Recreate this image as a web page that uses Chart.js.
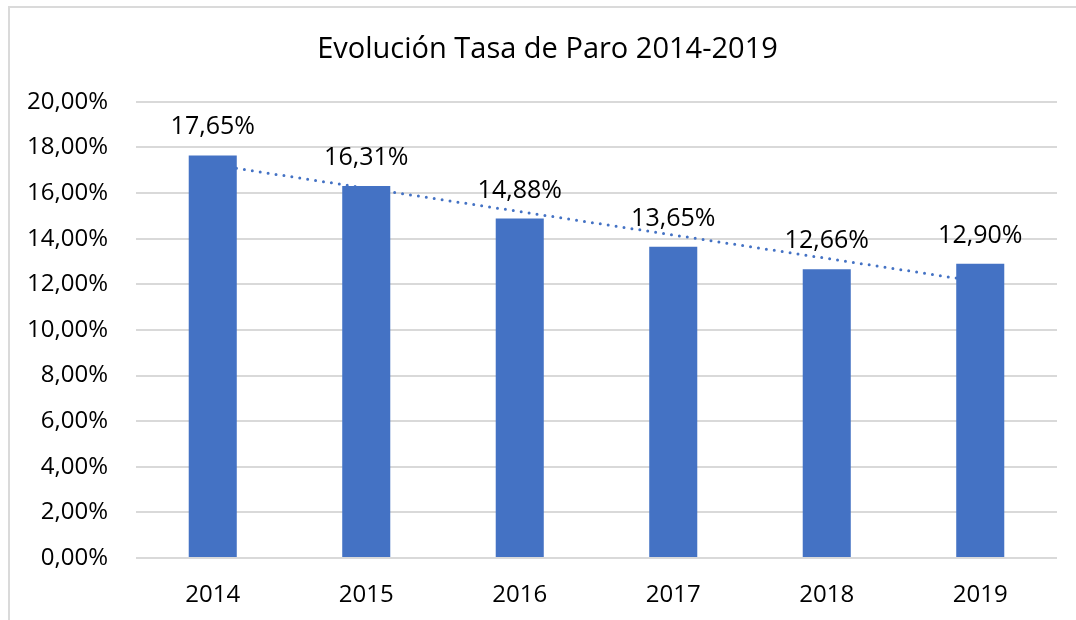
<!DOCTYPE html>
<html>
<head>
  <title>Evolución Tasa de Paro 2014-2019</title>
  <script src="https://cdn.jsdelivr.net/npm/chart.js"></script>
  <style>
    body { margin: 0; background: #ffffff; }
    #wrap { position: relative; width: 1076px; height: 620px; overflow: hidden; }
    #frame {
      position: absolute; left: 8px; top: 6px; width: 1200px; height: 700px;
      border-left: 2px solid #dadada; border-top: 2px solid #dadada;
      pointer-events: none;
    }
  </style>
</head>
<body>
  <div id="wrap">
    <canvas id="paroChart" width="1076" height="620"></canvas>
    <div id="frame"></div>
  </div>

  <script>
    const years = ["2014", "2015", "2016", "2017", "2018", "2019"];
    const tasaParo = [17.65, 16.31, 14.88, 13.65, 12.66, 12.90];
    // trend line read at first and last category
    const tendencia = [17.24, null, null, null, null, 12.11];

    const fontFamily = "'Open Sans', sans-serif";
    const fmt = v => v.toFixed(2).replace(".", ",") + "%";

    // labels above each bar
    const barLabels = {
      id: "barLabels",
      afterDatasetsDraw(chart) {
        const meta = chart.getDatasetMeta(0);
        const c = chart.ctx;
        c.save();
        c.font = "25px " + fontFamily;
        c.fillStyle = "#000000";
        c.textAlign = "center";
        c.textBaseline = "alphabetic";
        meta.data.forEach((bar, i) => {
          c.fillText(fmt(tasaParo[i]), bar.x, bar.y - 21);
        });
        c.restore();
      }
    };

    // centre the title on the framed area, not the plot
    const shiftTitle = {
      id: "shiftTitle",
      afterLayout(chart) {
        if (chart.titleBlock) chart.titleBlock.left = 38;
      }
    };

    const ctx = document.getElementById("paroChart").getContext("2d");
    new Chart(ctx, {
      data: {
        labels: years,
        datasets: [
          {
            type: "bar",
            label: "Tasa de Paro",
            data: tasaParo,
            backgroundColor: "#4472C4",
            borderWidth: 0,
            categoryPercentage: 1,
            barPercentage: 0.313,
            order: 0
          },
          {
            type: "line",
            label: "Tendencia",
            data: tendencia,
            spanGaps: true,
            borderColor: "#4472C4",
            borderWidth: 3,
            borderDash: [0, 8],
            borderCapStyle: "round",
            pointRadius: 0,
            fill: false,
            order: 1
          }
        ]
      },
      options: {
        responsive: false,
        maintainAspectRatio: false,
        animation: false,
        layout: { padding: { left: 0, right: 19, top: 0, bottom: 0 } },
        plugins: {
          legend: { display: false },
          tooltip: { enabled: false },
          title: {
            display: true,
            text: "Evolución Tasa de Paro 2014-2019",
            color: "#000000",
            font: { family: fontFamily, size: 29, weight: "normal", lineHeight: 1.2 },
            padding: { top: 32, bottom: 35 }
          }
        },
        scales: {
          x: {
            grid: { display: false, drawTicks: false },
            border: { display: false },
            ticks: {
              color: "#000000",
              padding: 23,
              font: { family: fontFamily, size: 24 }
            },
            afterFit(scale) { scale.height = 62; }
          },
          y: {
            min: 0,
            max: 20,
            grid: { color: "#d9d9d9", lineWidth: 2, drawTicks: false },
            border: { display: false },
            ticks: {
              stepSize: 2,
              color: "#000000",
              padding: 28,
              font: { family: fontFamily, size: 24 },
              callback: v => fmt(v)
            },
            afterFit(scale) { scale.width = 136; }
          }
        }
      },
      plugins: [barLabels, shiftTitle]
    });
  </script>
</body>
</html>
